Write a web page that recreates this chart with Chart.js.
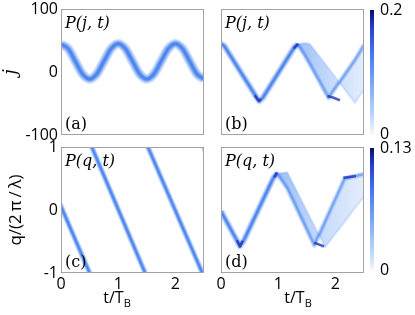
<!DOCTYPE html>
<html>
<head>
<meta charset="utf-8">
<script src="https://cdn.jsdelivr.net/npm/chart.js@4.4.1/dist/chart.umd.min.js"></script>
<style>
  body { margin: 0; background: #fff; }
  #wrap { position: relative; width: 415px; height: 315px; overflow: hidden; }
  #wrap canvas { position: absolute; }
</style>
</head>
<body>
<div id="wrap">
  <canvas id="pa" width="210" height="162" style="left:0;top:-12px"></canvas>
  <canvas id="pb" width="160" height="162" style="left:210px;top:-12px"></canvas>
  <canvas id="cbb" width="49" height="165" style="left:366px;top:-12px"></canvas>
  <canvas id="pc" width="210" height="187" style="left:0;top:128px"></canvas>
  <canvas id="pd" width="160" height="187" style="left:210px;top:128px"></canvas>
  <canvas id="cbd" width="49" height="187" style="left:366px;top:128px"></canvas>
</div>
<script>
const SANS = "'Open Sans', sans-serif";
const SERIF = "'DejaVu Serif', serif";

// ticks
const tTicks = [0, 1, 2];
const jTicks = [-100, 0, 100];
const qTicks = [-1, 0, 1];
const cbbTicks = [0, 0.2];
const cbdTicks = [0, 0.13];

// (a) P(j,t) - packet centre
const aT = [0, 0.125, 0.25, 0.375, 0.5, 0.625, 0.75, 0.875, 1, 1.125, 1.25, 1.375, 1.5, 1.625, 1.75, 1.875, 2, 2.125, 2.25, 2.375, 2.5];
const aJ = [44, 37, 17, -3, -11, -3, 17, 37, 45, 37, 17, -3, -11, -3, 17, 37, 45, 37, 17, -3, -11];

// (b) P(j,t) - main track, then the spreading fan
const bT = [0, 0.06, 0.62, 0.67, 0.73, 1.28, 1.34];
const bJ = [45, 41, -40, -46, -41, 39, 44];
const bFanT = [1.34, 1.46, 1.55, 1.88, 2.34, 2.5];
const bLeadJ = [44, 27, 13, -41, 19, 43];
const bTrailJ = [44, 46, 45, 6, -49, -28];
const bDarkT = [0.59, 0.66, 0.70, null, 1.27, 1.35, null, 1.86, 1.97, 2.08];
const bDarkJ = [-37, -46, -43, null, 37, 45, null, -38, -41, -45];

// (c) P(q,t) - quasi momentum sweeps through the zone
const cT = [-0.02, 0.52, null, 0.52, 1.49, null, 1.50, 2.49, null, 2.48, 2.6];
const cQ = [0.1, -1.04, null, 1.04, -1.04, null, 1.04, -1.04, null, 1.04, 0.78];

// (d) P(q,t)
const dT = [0, 0.27, 0.33, 0.40, 0.91, 0.98];
const dQ = [-0.02, -0.47, -0.57, -0.48, 0.5, 0.58];
const dFanT = [0.98, 1.16, 1.63, 1.82, 2.16, 2.5];
const dLeadQ = [0.58, 0.34, -0.56, -0.18, 0.50, 0.57];
const dTrailQ = [0.58, 0.60, -0.25, -0.59, -0.19, 0.22];
const dDarkT = [0.28, 0.33, 0.38, null, 0.93, 0.98, null, 1.63, 1.72, 1.80, null, 2.14, 2.36];
const dDarkQ = [-0.48, -0.58, -0.49, null, 0.52, 0.6, null, -0.52, -0.55, -0.58, null, 0.51, 0.54];

Chart.defaults.font.family = SANS;
Chart.defaults.font.size = 16;
Chart.defaults.color = '#000';
Chart.defaults.animation = false;

const pts = (ts, vs) => ts.map((t, i) => ({x: t, y: vs[i]}));

const frame = {
    id: 'frame',
    afterDraw(chart, args, opts) {
        if (!opts.border) return;
        const ctx = chart.ctx;
        const a = chart.chartArea;
        ctx.save();
        ctx.strokeStyle = '#a3a3a3';
        ctx.lineWidth = 1;
        ctx.strokeRect(a.left + 0.5, a.top + 0.5, a.right - a.left - 1, a.bottom - a.top - 1);
        ctx.fillStyle = '#000';
        ctx.textBaseline = 'alphabetic';
        ctx.font = 'italic 16px ' + SERIF;
        ctx.fillText(opts.title, a.left + 4, a.top + 19);
        ctx.font = '16px ' + SERIF;
        ctx.fillText(opts.tag, a.left + 4, a.bottom - 6);
        if (opts.xTitleX) {
            // t/T_B with subscript
            ctx.font = '16px ' + SANS;
            const w1 = ctx.measureText('t/T').width;
            ctx.font = '11px ' + SANS;
            const w2 = ctx.measureText('B').width;
            let x = opts.xTitleX - (w1 + w2) / 2;
            ctx.font = '16px ' + SANS;
            ctx.fillText('t/T', x, a.bottom + 30);
            ctx.font = '11px ' + SANS;
            ctx.fillText('B', x + w1, a.bottom + 34);
        }
        ctx.restore();
    }
};
Chart.register(frame);

// soft gaussian-looking track: stacked translucent strokes
function band(data, widths, alphas, rgb, order) {
    return widths.map((w, i) => ({
        data: data, borderWidth: w, borderColor: `rgba(${rgb},${alphas[i]})`, pointRadius: 0,
        fill: false, clip: 0, order: order + widths.length - i
    }));
}

function panel(id, cfg) {
    return new Chart(document.getElementById(id), {
        type: 'line',
        data: {datasets: cfg.datasets},
        options: {
            responsive: false,
            layout: {autoPadding: false, padding: cfg.pad},
            elements: {point: {radius: 0}, line: {borderCapStyle: 'butt', borderJoinStyle: 'round', tension: 0}},
            plugins: {
                legend: {display: false},
                tooltip: {enabled: false},
                frame: {border: true, title: cfg.title, tag: cfg.tag, xTitleX: cfg.xTitleX}
            },
            scales: {
                x: {
                    type: 'linear', min: 0, max: 2.5,
                    grid: {display: false, drawTicks: false}, border: {display: false},
                    ticks: {display: cfg.xTicks, padding: 2, maxRotation: 0},
                    afterBuildTicks: s => { s.ticks = tTicks.map(v => ({value: v})); },
                    afterFit: s => { s.height = cfg.xh; }
                },
                y: {
                    type: 'linear', min: cfg.ymin, max: cfg.ymax,
                    grid: {display: false, drawTicks: false}, border: {display: false},
                    ticks: {display: cfg.yTicks.length > 0, padding: 3, callback: v => String(v)},
                    afterBuildTicks: s => { s.ticks = cfg.yTicks.map(v => ({value: v})); },
                    afterFit: s => { s.width = cfg.yw; },
                    title: cfg.yTitle || {display: false}
                }
            }
        }
    });
}

const BLUE = '58,122,236';

panel('pa', {
    pad: {top: 21, right: 6, left: 0, bottom: 0}, yw: 61, xh: 15,
    ymin: -100, ymax: 100, yTicks: jTicks, xTicks: false,
    title: 'P(j, t)', tag: '(a)',
    yTitle: {display: true, text: 'j', padding: {top: 1, bottom: 0},
             font: {family: SERIF, style: 'italic', size: 18}},
    datasets: band(pts(aT, aJ), [10, 8, 6, 4, 2.5], [0.18, 0.22, 0.3, 0.45, 0.6], BLUE, 0)
        .map(d => Object.assign(d, {cubicInterpolationMode: 'monotone'}))
});

panel('pc', {
    pad: {top: 19, right: 6, left: 0, bottom: 0}, yw: 61, xh: 42,
    ymin: -1, ymax: 1, yTicks: qTicks, xTicks: true,
    title: 'P(q, t)', tag: '(c)', xTitleX: 117,
    yTitle: {display: true, text: 'q/(2\u2009π\u2009/\u2009λ)', padding: {top: 6, bottom: 0},
             font: {family: SANS, size: 17}},
    datasets: band(pts(cT, cQ), [6, 4.5, 3, 1.8], [0.22, 0.3, 0.45, 0.65], BLUE, 0)
});

function fanSets(mainT, mainV, fanT, leadV, trailV, darkT, darkV) {
    const fanFill = c => {
        const ch = c.chart;
        if (!ch.chartArea) return 'rgba(110,160,245,0.3)';
        const xs = ch.scales.x;
        const g = ch.ctx.createLinearGradient(xs.getPixelForValue(fanT[0]), 0, xs.getPixelForValue(fanT[fanT.length - 1]), 0);
        g.addColorStop(0, 'rgba(90,146,244,0.6)');
        g.addColorStop(0.45, 'rgba(110,162,246,0.42)');
        g.addColorStop(1, 'rgba(140,182,248,0.25)');
        return g;
    };
    return [
        {data: pts(darkT, darkV), borderWidth: 2.6, borderColor: 'rgba(30,50,185,0.8)', clip: 0, order: 0},
        ...band(pts(mainT, mainV), [7, 5, 3.2, 1.8], [0.2, 0.3, 0.45, 0.7], BLUE, 1),
        ...band(pts(fanT, leadV), [5, 2.5], [0.25, 0.4], BLUE, 6),
        {data: pts(fanT, leadV), borderWidth: 1, borderColor: 'rgba(90,145,240,0.3)', clip: 0, order: 9,
         fill: '+1', backgroundColor: fanFill},
        {data: pts(fanT, trailV), borderWidth: 2, borderColor: 'rgba(150,190,250,0.35)', clip: 0, order: 10}
    ];
}

panel('pb', {
    pad: {top: 21, right: 6, left: 0, bottom: 0}, yw: 11, xh: 15,
    ymin: -100, ymax: 100, yTicks: [], xTicks: false,
    title: 'P(j, t)', tag: '(b)',
    datasets: fanSets(bT, bJ, bFanT, bLeadJ, bTrailJ, bDarkT, bDarkJ)
});

panel('pd', {
    pad: {top: 19, right: 6, left: 0, bottom: 0}, yw: 11, xh: 42,
    ymin: -1, ymax: 1, yTicks: [], xTicks: true,
    title: 'P(q, t)', tag: '(d)', xTitleX: 88,
    datasets: fanSets(dT, dQ, dFanT, dLeadQ, dTrailQ, dDarkT, dDarkQ)
});

function colorbar(id, max, ticks, pad) {
    return new Chart(document.getElementById(id), {
        type: 'bar',
        data: {
            labels: [''],
            datasets: [{
                data: [max], borderWidth: 0, barPercentage: 1, categoryPercentage: 1,
                backgroundColor: c => {
                    const a = c.chart.chartArea;
                    if (!a) return '#fff';
                    const g = c.chart.ctx.createLinearGradient(0, a.bottom, 0, a.top);
                    g.addColorStop(0, '#f4f8fe');
                    g.addColorStop(0.12, '#c6dcfa');
                    g.addColorStop(0.4, '#7caaf3');
                    g.addColorStop(0.65, '#4577ee');
                    g.addColorStop(0.85, '#2a40d8');
                    g.addColorStop(1, '#0b0b6a');
                    return g;
                }
            }]
        },
        options: {
            responsive: false,
            layout: {autoPadding: false, padding: pad},
            plugins: {legend: {display: false}, tooltip: {enabled: false}},
            scales: {
                x: {
                    display: true, grid: {display: false, drawTicks: false}, border: {display: false},
                    ticks: {display: false},
                    afterFit: s => { s.height = 0; }
                },
                y: {
                    position: 'right', min: 0, max: max,
                    grid: {display: false, drawTicks: false}, border: {display: false},
                    ticks: {padding: 6, callback: v => String(v)},
                    afterBuildTicks: s => { s.ticks = ticks.map(v => ({value: v})); },
                    afterFit: s => { s.width = 41; }
                }
            }
        }
    });
}

colorbar('cbb', 0.2, cbbTicks, {left: 4, top: 22, bottom: 19, right: 0});
colorbar('cbd', 0.13, cbdTicks, {left: 4, top: 20, bottom: 45, right: 0});
</script>
</body>
</html>
